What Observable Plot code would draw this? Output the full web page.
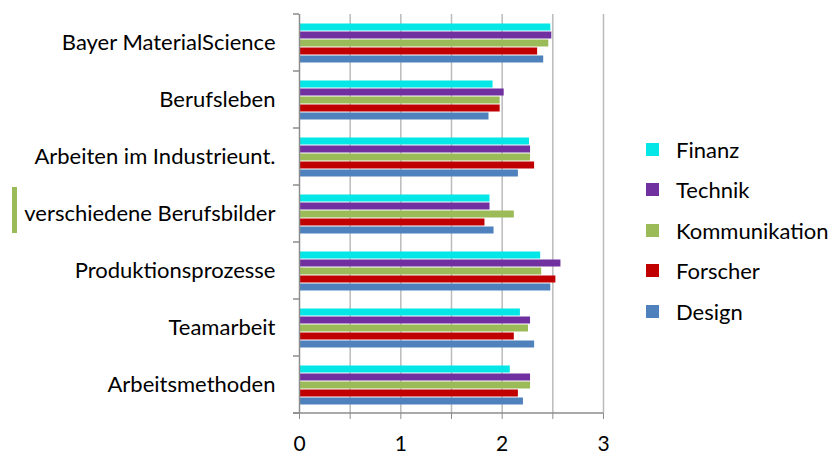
<!DOCTYPE html>
<html>
<head>
<meta charset="utf-8">
<script src="https://cdn.jsdelivr.net/npm/d3@7"></script>
<script src="https://cdn.jsdelivr.net/npm/@observablehq/plot@0.6"></script>
<style>
  html, body { margin: 0; padding: 0; background: #fff; }
  #wrap { position: relative; width: 829px; height: 454px; font-family: Lato, "Open Sans", sans-serif; }
  #legend { position: absolute; left: 646px; top: 0; }
  .item { position: absolute; left: 0; width: 190px; height: 24px; display: flex; align-items: center; font-size: 22px; color: #000; white-space: nowrap; }
  .sw { width: 13px; height: 13px; margin-right: 17px; flex: none; }
  #marker { position: absolute; left: 12px; top: 187px; width: 5px; height: 46px; background: #9BBB59; }
</style>
</head>
<body>
<div id="wrap"><div id="marker"></div><div id="legend"></div></div>
<script>
const categories = ["Bayer MaterialScience", "Berufsleben", "Arbeiten im Industrieunt.", "verschiedene Berufsbilder", "Produktionsprozesse", "Teamarbeit", "Arbeitsmethoden"];
const series = ["Finanz", "Technik", "Kommunikation", "Forscher", "Design"];
const finanz        = [2.48, 1.91, 2.27, 1.88, 2.38, 2.18, 2.08];
const technik       = [2.49, 2.02, 2.28, 1.88, 2.58, 2.28, 2.28];
const kommunikation = [2.46, 1.98, 2.28, 2.12, 2.39, 2.26, 2.28];
const forscher      = [2.35, 1.98, 2.32, 1.83, 2.53, 2.12, 2.16];
const design        = [2.41, 1.87, 2.16, 1.92, 2.48, 2.32, 2.21];
const colors = ["#05E6E6", "#7030A0", "#9BBB59", "#C00000", "#4F81BD"];
const xTickLabels = [0, 1, 2, 3];
const xTicks = [0, 0.5, 1, 1.5, 2, 2.5, 3];

const valuesBySeries = [finanz, technik, kommunikation, forscher, design];
const data = [];
categories.forEach((c, i) => series.forEach((s, j) => data.push({category: c, series: s, value: valuesBySeries[j][i]})));

const plot = Plot.plot({
  width: 829,
  height: 454,
  marginLeft: 299,
  marginRight: 226,
  marginTop: 12,
  marginBottom: 40,
  style: {fontFamily: "Lato, 'Open Sans', sans-serif", fontSize: "21px", color: "#000", background: "transparent"},
  x: {domain: [0, 3]},
  y: {domain: series, paddingInner: 0, paddingOuter: 0.84, axis: null},
  fy: {domain: categories, padding: 0},
  color: {domain: series, range: colors},
  marks: [
    Plot.ruleX(xTicks.filter(d => d > 0), {stroke: "#BBBBBB", strokeWidth: 1.5}),
    Plot.barX(data, {x: "value", y: "series", fy: "category", fill: "series", insetTop: 0.5, insetBottom: 0.5}),
    Plot.ruleX([0], {stroke: "#8C8C8C", strokeWidth: 1.5}),
    Plot.axisX({ticks: xTicks, tickSize: 6, tickPadding: 17, stroke: "#8C8C8C", fill: "#000", label: null, fontSize: 21,
      tickFormat: d => xTickLabels.includes(d) ? String(d) : ""}),
    Plot.axisFy({anchor: "left", tickSize: 0, tickPadding: 24, fill: "#000", label: null, fontSize: 22})
  ]
});

document.getElementById("wrap").appendChild(plot);

// category boundary ticks and bottom axis line, positioned from the plot's scales
const fy = plot.scale("fy");
const xs = plot.scale("x");
const x0 = xs.apply(0), x3 = xs.apply(3);
const svg = d3.select(plot);
const bounds = categories.map(c => fy.apply(c));
bounds.push(fy.apply(categories[categories.length - 1]) + fy.bandwidth);
const g = svg.append("g").attr("stroke", "#8C8C8C").attr("stroke-width", 1.5);
bounds.forEach(b => g.append("line").attr("x1", x0 - 6).attr("x2", x0).attr("y1", b).attr("y2", b));
g.append("line").attr("x1", x0 - 6).attr("x2", x3).attr("y1", bounds[bounds.length - 1]).attr("y2", bounds[bounds.length - 1]);

// legend
const legend = document.getElementById("legend");
const legendTops = [137, 177, 218, 258, 299];
series.forEach((s, i) => {
  const item = document.createElement("div");
  item.className = "item";
  item.style.top = legendTops[i] + "px";
  item.innerHTML = `<span class="sw" style="background:${colors[i]}"></span><span>${s}</span>`;
  legend.appendChild(item);
});
</script>
</body>
</html>
